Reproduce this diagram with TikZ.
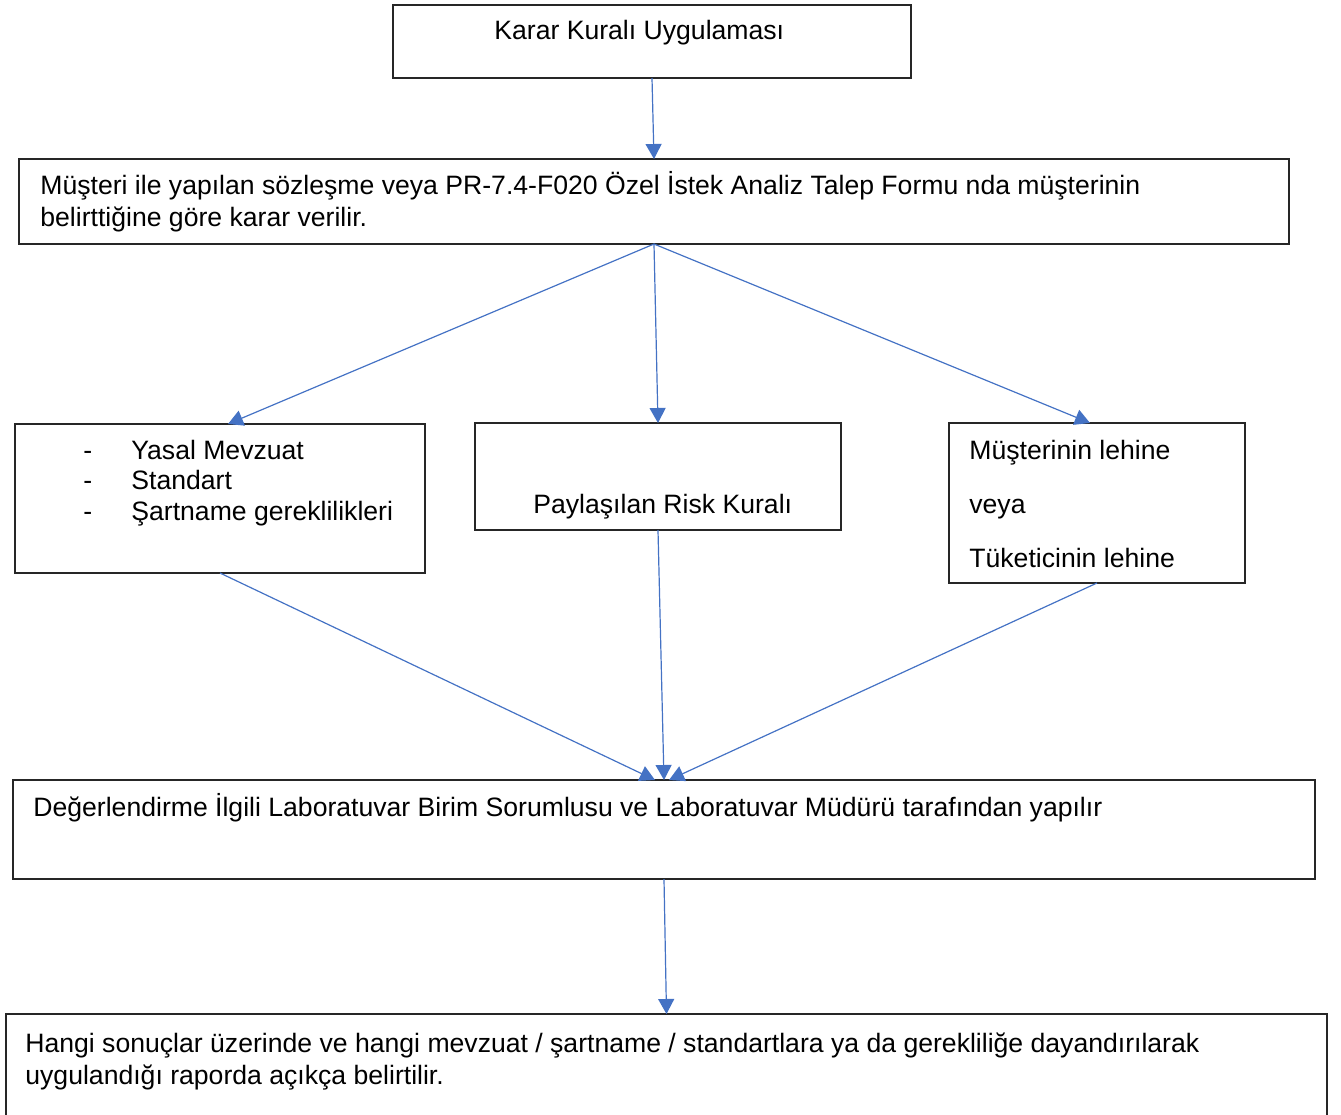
\documentclass[tikz,border=0pt]{standalone}
\usepackage{fontspec}
\setmainfont{Liberation Sans}
\usetikzlibrary{arrows.meta}
\definecolor{flowblue}{RGB}{68,114,196}
\tikzset{
  box/.style={draw=black!85, line width=0.7pt, fill=white, inner sep=0pt, outer sep=0pt},
  txt/.style={anchor=base west, inner sep=0pt, font=\fontsize{13.3}{16}\selectfont},
  flow/.style={-{Triangle[length=7.5pt,width=8pt]}, flowblue, line width=0.6pt}
}
\begin{document}
\begin{tikzpicture}[x=0.5pt,y=-0.5pt]
  \useasboundingbox (0,0) rectangle (1341,1115);

  % Boxes
  \node[box, minimum width=259pt, minimum height=36.5pt] (rule) at (652,41.5) {};
  \node[box, minimum width=635pt, minimum height=42.5pt] (contract) at (654,201.5) {};
  \node[box, minimum width=205pt, minimum height=74.5pt] (legal) at (220,498.5) {};
  \node[box, minimum width=183pt, minimum height=53.5pt] (shared) at (658,476.5) {};
  \node[box, minimum width=148pt, minimum height=80pt] (favour) at (1097,503) {};
  \node[box, minimum width=651pt, minimum height=49.5pt] (review) at (664,829.5) {};
  \node[box, minimum width=660.5pt, minimum height=56pt] (report) at (666.5,1070) {};

  % Texts
  \node[txt] (ruletxt) at (494,39.5) {Karar Kuralı Uygulaması};
  \node[txt] (contracta) at (40,194) {Müşteri ile yapılan sözleşme veya PR-7.4-F020 Özel İstek Analiz Talep Formu nda müşterinin};
  \node[txt] (contractb) at (40,226) {belirttiğine göre karar verilir.};
  \node[txt] (dasha) at (83,459) {-};
  \node[txt] (dashb) at (83,489) {-};
  \node[txt] (dashc) at (83,520) {-};
  \node[txt] (legala) at (131,459) {Yasal Mevzuat};
  \node[txt] (legalb) at (131,489) {Standart};
  \node[txt] (legalc) at (131,520) {Şartname gereklilikleri};
  \node[txt] (sharedtxt) at (533,513) {Paylaşılan Risk Kuralı};
  \node[txt] (favoura) at (969,459) {Müşterinin lehine};
  \node[txt] (favourb) at (969,513) {veya};
  \node[txt] (favourc) at (969,567) {Tüketicinin lehine};
  \node[txt] (reviewtxt) at (33,816) {Değerlendirme İlgili Laboratuvar Birim Sorumlusu ve Laboratuvar Müdürü tarafından yapılır};
  \node[txt] (reporta) at (25,1052) {Hangi sonuçlar üzerinde ve hangi mevzuat / şartname / standartlara ya da gerekliliğe dayandırılarak};
  \node[txt] (reportb) at (25,1084) {uygulandığı raporda açıkça belirtilir.};

  % Arrows
  \draw[flow] (rule.south) -- (contract.north);
  \draw[flow] (contract.south) -- ([xshift=4pt]legal.north);
  \draw[flow] (contract.south) -- (shared.north);
  \draw[flow] (contract.south) -- ([xshift=-3.5pt]favour.north);
  \draw[flow] (legal.south) -- ([xshift=-4.5pt]review.north);
  \draw[flow] (shared.south) -- (review.north);
  \draw[flow] (favour.south) -- ([xshift=2.5pt]review.north);
  \draw[flow] (review.south) -- (report.north);
\end{tikzpicture}
\end{document}
